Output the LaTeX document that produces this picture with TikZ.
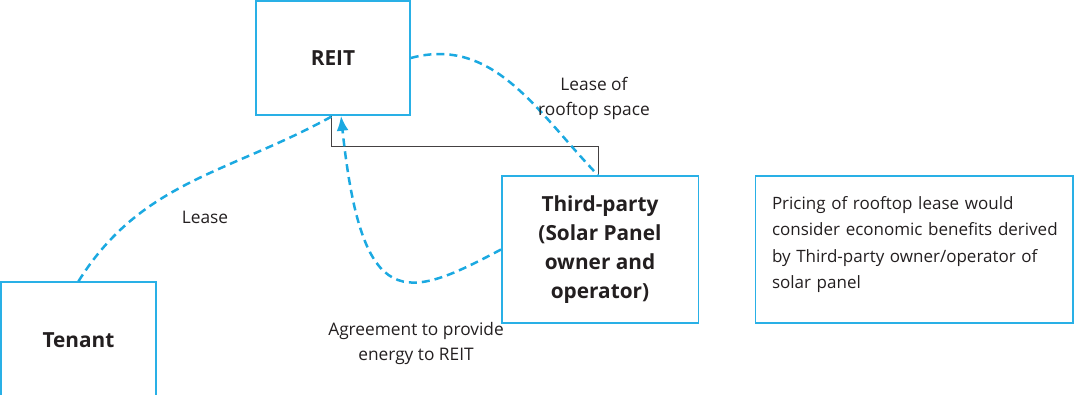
\documentclass[tikz,border=0pt]{standalone}
\usepackage{fontspec}
\setmainfont{Open Sans}
\usetikzlibrary{arrows.meta}
\definecolor{cyanline}{HTML}{1BA9E1}
\definecolor{boxline}{HTML}{29B0E6}
\definecolor{darktext}{HTML}{231F20}

\begin{document}
\begin{tikzpicture}[x=1pt,y=1pt,
    party/.style={draw=boxline,line width=1.5pt,text=darktext,font=\fontsize{20.8}{29}\selectfont\bfseries,align=center,inner sep=0pt},
    flow/.style={draw=cyanline,line width=2.5pt,dash pattern=on 8pt off 5pt},
    lbl/.style={text=darktext,font=\fontsize{17.3}{25}\selectfont,align=center,inner sep=0pt}]
    \useasboundingbox (0,0) rectangle (1074,-395);
    \node[party,minimum width=154,minimum height=114] (reit) at (333,-58) {REIT};
    \node[party,minimum width=155,minimum height=116] (tenant) at (78.5,-340) {Tenant};
    \node[party,minimum width=196.5,minimum height=147] (third) at (600,-249.5)
      {Third-party\\(Solar Panel\\owner and\\operator)};
    \node[party,font=\fontsize{17}{26.5}\selectfont,align=left,text width=284.5,
      inner xsep=16.5,minimum height=147] (note) at (914.25,-249.5)
      {\mbox{Pricing of rooftop lease would}\\\mbox{consider economic benefits derived}\\
       \mbox{by Third-party owner/operator of}\\\mbox{solar panel}\par\vspace*{10pt}};
    % grey link between REIT and third party
    \draw[darktext!85,line width=1pt] ([xshift=-2]reit.south) -- ++(0,-31) -| ([xshift=-2]third.north);
    % flows
    \draw[flow] (tenant.north) to[out=58,in=209] (reit.south);
    \draw[flow] (reit.east) to[out=15,in=134] ([xshift=-2]third.north);
    \draw[flow,-{Latex[length=15pt,width=12pt]}] (third.west) .. controls +(208:108) and +(-84:200) .. ([xshift=8]reit.south);
    \node[lbl] (lease) at (205,-217) {Lease};
    \node[lbl] (roof) at (594,-98) {Lease of\\rooftop space};
    \node[lbl] (agree) at (416,-344) {Agreement to provide\\energy to REIT};
\end{tikzpicture}
\end{document}
